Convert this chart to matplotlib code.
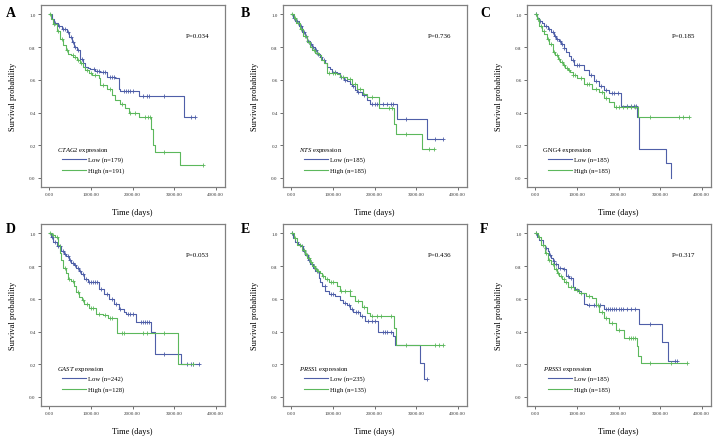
import numpy as np
import matplotlib
matplotlib.use("Agg")
import matplotlib.pyplot as plt
from matplotlib.lines import Line2D

plt.rcParams['font.family'] = ['Liberation Serif', 'DejaVu Serif']
plt.rcParams['mathtext.fontset'] = 'custom'
plt.rcParams['mathtext.rm'] = 'Liberation Serif'
plt.rcParams['mathtext.it'] = 'Liberation Serif:italic'

LOW_COLOR = '#4f5fa8'
HIGH_COLOR = '#5cb85c'

# ---- panel A: CTAG2 ----
a_low_t = [0, 60, 120, 220, 300, 420, 480, 540, 600, 660, 740, 800, 865, 920, 985, 1100, 1230, 1390, 1590, 1670, 1710, 2160, 3230, 3490]
a_low_s = [1.0, 0.97, 0.95, 0.93, 0.91, 0.89, 0.86, 0.83, 0.80, 0.78, 0.73, 0.70, 0.68, 0.67, 0.665, 0.655, 0.645, 0.62, 0.61, 0.545, 0.53, 0.50, 0.37, 0.37]
a_low_c = [150, 230, 330, 380, 450, 520, 560, 620, 700, 780, 1080, 1150, 1200, 1280, 1330, 1450, 1500, 1550, 1800, 1850, 1900, 1950, 2000, 2250, 2350, 2400, 2750, 3400, 3490]
a_high_t = [0, 50, 100, 180, 260, 340, 400, 460, 520, 580, 660, 740, 800, 865, 950, 1030, 1190, 1230, 1390, 1510, 1590, 1710, 1830, 1915, 2150, 2450, 2500, 2540, 3130, 3690]
a_high_s = [1.0, 0.97, 0.94, 0.90, 0.85, 0.81, 0.78, 0.76, 0.75, 0.74, 0.72, 0.70, 0.68, 0.66, 0.64, 0.63, 0.61, 0.57, 0.545, 0.505, 0.475, 0.45, 0.425, 0.40, 0.37, 0.30, 0.20, 0.16, 0.08, 0.08]
a_high_c = [30, 120, 220, 300, 420, 560, 620, 700, 760, 900, 1000, 1100, 1300, 1450, 1750, 1950, 2050, 2300, 2380, 2420, 2750, 3690]

# ---- panel B: NTS ----
b_low_t = [0, 50, 100, 180, 260, 320, 380, 440, 500, 560, 620, 680, 740, 800, 860, 920, 980, 1100, 1180, 1260, 1340, 1400, 1455, 1520, 1575, 1695, 1815, 1890, 2530, 3270, 3640]
b_low_s = [1.0, 0.98, 0.96, 0.93, 0.89, 0.865, 0.84, 0.82, 0.80, 0.78, 0.76, 0.74, 0.72, 0.70, 0.68, 0.665, 0.65, 0.64, 0.62, 0.60, 0.59, 0.575, 0.56, 0.54, 0.525, 0.505, 0.475, 0.45, 0.36, 0.24, 0.24]
b_low_c = [70, 150, 230, 300, 350, 410, 470, 530, 590, 650, 720, 780, 1050, 1200, 1300, 1480, 1600, 1750, 1950, 2000, 2050, 2100, 2200, 2300, 2400, 2450, 2750, 3450, 3640]
b_high_t = [0, 60, 120, 200, 280, 380, 440, 500, 580, 660, 720, 780, 860, 1100, 1180, 1340, 1455, 1575, 1735, 1815, 2100, 2480, 2520, 3130, 3440]
b_high_s = [1.0, 0.98, 0.95, 0.91, 0.87, 0.83, 0.80, 0.78, 0.765, 0.75, 0.72, 0.70, 0.64, 0.635, 0.62, 0.605, 0.575, 0.545, 0.515, 0.495, 0.43, 0.33, 0.27, 0.18, 0.18]
b_high_c = [30, 90, 160, 240, 330, 420, 540, 620, 900, 1000, 1060, 1250, 1400, 1520, 1650, 1950, 2350, 2420, 2750, 3300, 3440]

# ---- panel C: GNG4 ----
c_low_t = [0, 50, 100, 160, 220, 300, 380, 440, 500, 560, 620, 680, 735, 800, 855, 935, 1170, 1290, 1410, 1530, 1650, 1765, 2060, 2455, 2500, 3140, 3270]
c_low_s = [1.0, 0.98, 0.96, 0.945, 0.93, 0.91, 0.89, 0.87, 0.85, 0.835, 0.82, 0.795, 0.77, 0.745, 0.72, 0.69, 0.66, 0.63, 0.59, 0.56, 0.54, 0.52, 0.44, 0.37, 0.18, 0.09, 0.0]
c_low_c = [30, 120, 250, 340, 420, 470, 530, 590, 650, 700, 900, 1000, 1050, 1350, 1470, 1580, 1700, 1850, 1900, 1980, 2200, 2300, 2380, 2420]
c_high_t = [0, 50, 100, 160, 220, 280, 340, 420, 480, 540, 600, 660, 720, 775, 835, 895, 1015, 1170, 1370, 1530, 1650, 1765, 1885, 2460, 3690]
c_high_s = [1.0, 0.97, 0.93, 0.90, 0.88, 0.85, 0.82, 0.77, 0.75, 0.73, 0.71, 0.69, 0.675, 0.66, 0.645, 0.63, 0.61, 0.575, 0.545, 0.525, 0.49, 0.465, 0.435, 0.37, 0.37]
c_high_c = [20, 70, 130, 200, 300, 380, 450, 520, 580, 640, 700, 760, 820, 900, 950, 1100, 1250, 1300, 1450, 1600, 1700, 1950, 2000, 2100, 2200, 2300, 2400, 2750, 3450, 3550, 3690]

# ---- panel D: GAST ----
d_low_t = [0, 40, 95, 175, 290, 350, 410, 470, 530, 590, 650, 710, 765, 845, 925, 1200, 1320, 1435, 1555, 1670, 1790, 1850, 2080, 2450, 2540, 3160, 3600]
d_low_s = [1.0, 0.98, 0.95, 0.92, 0.89, 0.875, 0.86, 0.84, 0.82, 0.805, 0.79, 0.77, 0.75, 0.72, 0.70, 0.66, 0.63, 0.60, 0.57, 0.54, 0.52, 0.51, 0.46, 0.40, 0.26, 0.20, 0.20]
d_low_c = [60, 140, 200, 250, 320, 380, 440, 500, 560, 620, 680, 740, 800, 880, 950, 1000, 1050, 1100, 1150, 1250, 1380, 1500, 1600, 1700, 1900, 1950, 2000, 2200, 2250, 2300, 2350, 2400, 2750, 3300, 3400, 3450, 3600]
d_high_t = [0, 60, 135, 215, 250, 290, 330, 410, 450, 530, 605, 650, 725, 785, 845, 960, 1120, 1280, 1400, 1630, 3090, 3450]
d_high_s = [1.0, 0.99, 0.98, 0.93, 0.88, 0.84, 0.79, 0.76, 0.72, 0.71, 0.68, 0.64, 0.61, 0.59, 0.57, 0.545, 0.51, 0.50, 0.48, 0.39, 0.20, 0.20]
d_high_c = [30, 100, 180, 380, 480, 560, 700, 820, 900, 1000, 1050, 1200, 1350, 1450, 1500, 1750, 1800, 2250, 2350, 2750, 3450]

# ---- panel E: PRSS1 ----
e_low_t = [0, 50, 100, 160, 220, 280, 340, 400, 460, 520, 580, 660, 700, 740, 820, 900, 1060, 1175, 1255, 1335, 1420, 1495, 1655, 1775, 2090, 2450, 2490, 3085, 3200, 3270]
e_low_s = [1.0, 0.97, 0.95, 0.935, 0.92, 0.895, 0.87, 0.84, 0.81, 0.79, 0.77, 0.73, 0.70, 0.68, 0.65, 0.63, 0.615, 0.595, 0.575, 0.56, 0.54, 0.52, 0.495, 0.465, 0.40, 0.37, 0.32, 0.21, 0.11, 0.11]
e_low_c = [30, 130, 250, 310, 380, 430, 500, 560, 620, 800, 950, 1000, 1300, 1380, 1450, 1550, 1600, 1700, 1850, 1950, 2000, 2200, 2250, 2300, 2400, 3270]
e_high_t = [0, 65, 140, 260, 320, 380, 440, 500, 560, 620, 680, 740, 820, 900, 1100, 1175, 1415, 1535, 1695, 1815, 1890, 2470, 2520, 3640]
e_high_s = [1.0, 0.97, 0.93, 0.90, 0.875, 0.85, 0.825, 0.80, 0.785, 0.77, 0.755, 0.74, 0.72, 0.70, 0.68, 0.65, 0.62, 0.585, 0.55, 0.515, 0.495, 0.42, 0.32, 0.32]
e_high_c = [20, 100, 200, 300, 350, 420, 480, 540, 600, 650, 760, 850, 950, 1000, 1200, 1300, 1400, 1600, 1750, 1950, 2050, 2150, 2400, 2750, 3450, 3550, 3640]

# ---- panel F: PRSS3 ----
f_low_t = [0, 50, 100, 185, 240, 300, 340, 380, 420, 460, 540, 660, 740, 820, 900, 960, 1020, 1100, 1175, 1250, 1655, 2490, 3045, 3190, 3400]
f_low_s = [1.0, 0.98, 0.96, 0.93, 0.91, 0.89, 0.87, 0.85, 0.83, 0.81, 0.79, 0.78, 0.74, 0.73, 0.675, 0.66, 0.645, 0.635, 0.57, 0.56, 0.535, 0.445, 0.335, 0.22, 0.22]
f_low_c = [30, 150, 270, 360, 440, 500, 600, 700, 780, 860, 1050, 1300, 1400, 1450, 1550, 1700, 1750, 1800, 1850, 1900, 1950, 2000, 2050, 2100, 2200, 2300, 2400, 2750, 3350, 3400]
f_high_t = [0, 65, 145, 225, 300, 380, 460, 520, 580, 640, 700, 780, 940, 1060, 1215, 1375, 1455, 1535, 1655, 1775, 1930, 2130, 2450, 2480, 2530, 3640]
f_high_s = [1.0, 0.98, 0.93, 0.88, 0.84, 0.81, 0.78, 0.76, 0.74, 0.72, 0.705, 0.675, 0.655, 0.635, 0.62, 0.605, 0.565, 0.52, 0.485, 0.45, 0.41, 0.36, 0.31, 0.25, 0.21, 0.21]
f_high_c = [20, 100, 180, 260, 340, 420, 490, 550, 620, 680, 740, 850, 1000, 1100, 1300, 1500, 1600, 1700, 1850, 2000, 2250, 2300, 2350, 2400, 2750, 3250, 3640]

letters = ['A', 'B', 'C', 'D', 'E', 'F']
genes = ['CTAG2', 'NTS', 'GNG4', 'GAST', 'PRSS1', 'PRSS3']
gene_italic = [True, True, False, True, True, True]
p_values = ['P=0.034', 'P=0.736', 'P=0.185', 'P=0.053', 'P=0.436', 'P=0.317']
n_low = [179, 185, 185, 242, 235, 185]
n_high = [191, 185, 185, 128, 135, 185]

panels = [
    (a_low_t, a_low_s, a_low_c, a_high_t, a_high_s, a_high_c),
    (b_low_t, b_low_s, b_low_c, b_high_t, b_high_s, b_high_c),
    (c_low_t, c_low_s, c_low_c, c_high_t, c_high_s, c_high_c),
    (d_low_t, d_low_s, d_low_c, d_high_t, d_high_s, d_high_c),
    (e_low_t, e_low_s, e_low_c, e_high_t, e_high_s, e_high_c),
    (f_low_t, f_low_s, f_low_c, f_high_t, f_high_s, f_high_c),
]

W, H = 716, 439
fig = plt.figure(figsize=(W / 100, H / 100), dpi=100)

col_left = [40.5, 282.5, 526.5]
row_top = [6, 225]
ax_w, ax_h = 184, 182
letter_pos = [(6, 7), (241, 7), (480, 7), (6, 223), (241, 223), (480, 223)]


def draw_km(ax, t, s, cens, color):
    t = np.asarray(t, float)
    s = np.asarray(s, float)
    ax.step(t, s, where='post', color=color, lw=0.8)
    c = np.asarray(cens, float)
    idx = np.searchsorted(t, c, side='right') - 1
    ax.plot(c, s[idx], ls='none', marker='+', ms=3.0, mew=0.6, color=color)


for i, (lt, ls_, lc, ht, hs, hc) in enumerate(panels):
    r, col = divmod(i, 3)
    left = col_left[col] / W
    bottom = (H - row_top[r] - ax_h) / H
    ax = fig.add_axes([left, bottom, ax_w / W, ax_h / H])

    draw_km(ax, lt, ls_, lc, LOW_COLOR)
    draw_km(ax, ht, hs, hc, HIGH_COLOR)

    ax.set_xlim(-210, 4210)
    ax.set_ylim(-0.055, 1.057)
    ax.set_xticks([0, 1000, 2000, 3000, 4000])
    ax.set_xticklabels([f"{v:.2f}" for v in [0, 1000, 2000, 3000, 4000]])
    ax.set_yticks([0.0, 0.2, 0.4, 0.6, 0.8, 1.0])
    ax.set_yticklabels([f"{v:.1f}" for v in [0.0, 0.2, 0.4, 0.6, 0.8, 1.0]])
    ax.tick_params(labelsize=3.6, length=2, width=0.5, pad=1.5, colors='#333333')
    for sp in ax.spines.values():
        sp.set_color('#808080')
        sp.set_linewidth(0.9)

    ax.set_ylabel('Survival probability', fontsize=6, labelpad=9)
    ax.set_xlabel('Time (days)', fontsize=6, labelpad=9)

    ax.text(0.79, 0.835, p_values[i], transform=ax.transAxes, fontsize=5,
            ha='left', va='center')

    gene = genes[i]
    title = (r"$\mathit{%s}$ expression" % gene) if gene_italic[i] else f"{gene} expression"
    ax.text(0.089, 0.205, title, transform=ax.transAxes, fontsize=4.8,
            ha='left', va='center')
    handles = [Line2D([], [], color=LOW_COLOR, lw=0.8),
               Line2D([], [], color=HIGH_COLOR, lw=0.8)]
    labels = [f"Low (n={n_low[i]})", f"High (n={n_high[i]})"]
    ax.legend(handles, labels, loc='upper left', bbox_to_anchor=(0.116, 0.168),
              frameon=False, fontsize=4.8, handlelength=3.6, handletextpad=0.3,
              labelspacing=0.75, borderaxespad=0, borderpad=0)

    lx, ly = letter_pos[i]
    fig.text(lx / W, 1 - ly / H, letters[i], fontsize=10, fontweight='bold',
             ha='left', va='top')

fig.savefig('out.png', dpi=100)
